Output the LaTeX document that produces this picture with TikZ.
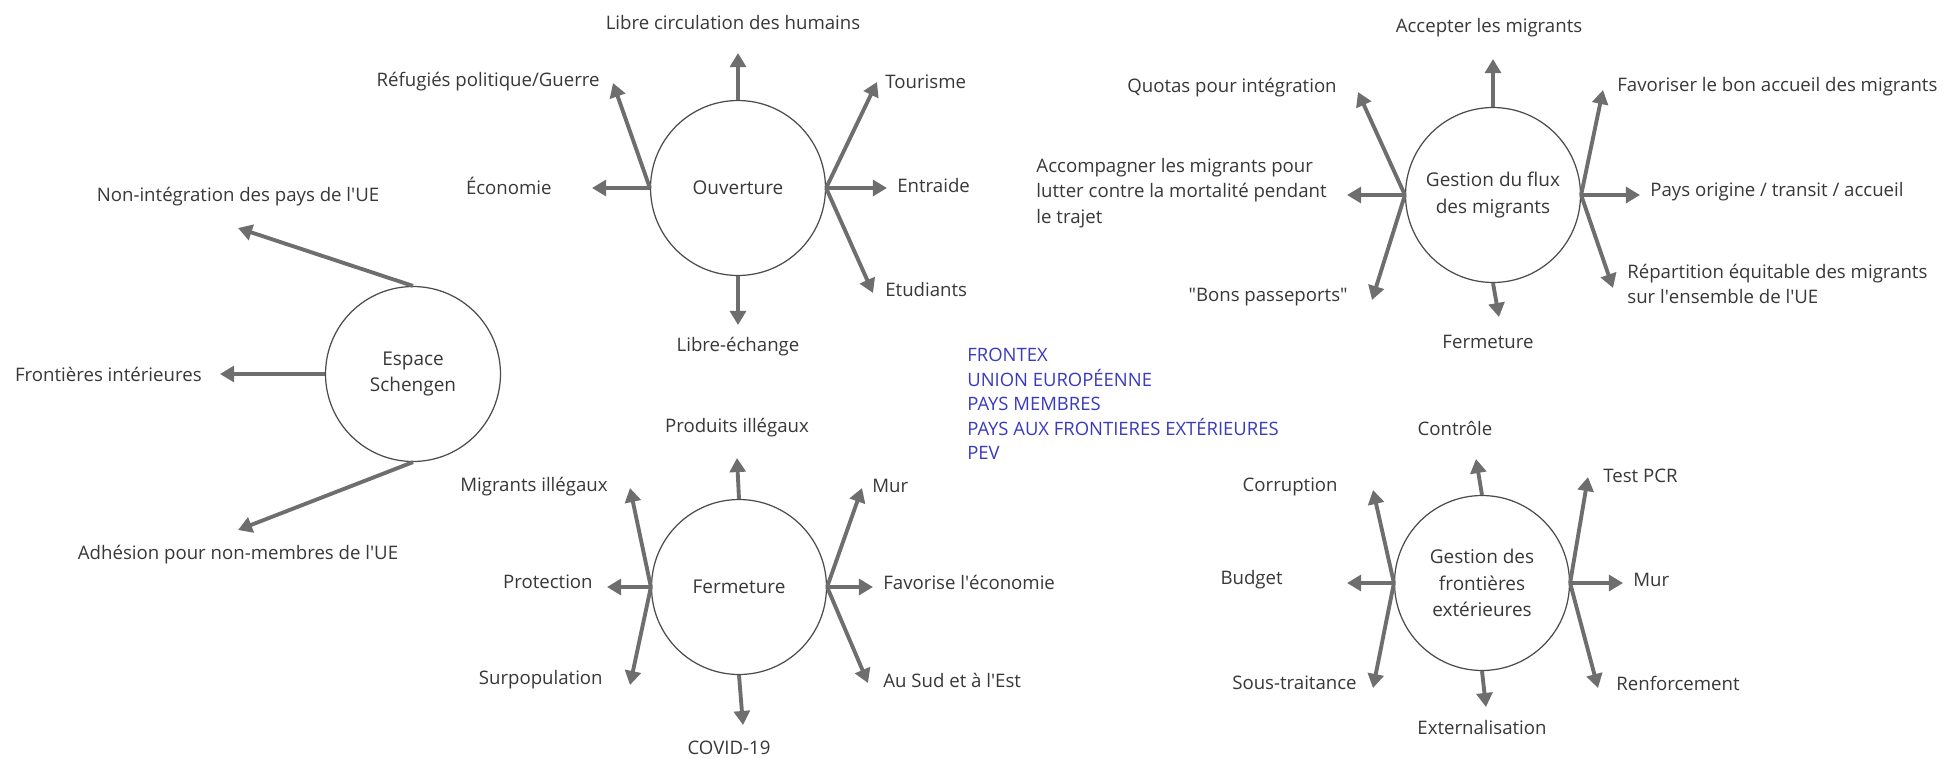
\documentclass[tikz,border=0pt]{standalone}
\usepackage{fontspec}
\setmainfont{Open Sans}
\usetikzlibrary{arrows.meta}

\definecolor{bleu}{RGB}{58,58,190}
\newcommand{\ap}{\textquotesingle}

\tikzset{
  hub/.style={circle, draw=black!70, line width=0.7pt, minimum size=3.5cm, inner sep=0pt,
    align=center, text=black!78, font=\fontsize{10.8}{15}\selectfont},
  lbl/.style={inner sep=0pt, text=black!78, font=\fontsize{10.6}{14.5}\selectfont},
  arr/.style={draw=black!57, line width=2.2pt, -{Triangle[length=8pt,width=9pt,fill=black!57]}},
}

\begin{document}
\begin{tikzpicture}[x=0.02cm,y=-0.02cm]
    \fill[white] (0,0) rectangle (1944,758);
    \useasboundingbox (0,0) rectangle (1944,758);

    % Kreise:
    \node[hub] (schengen) at (413,374) {Espace\\Schengen};
    \node[hub] (ouverture) at (738,188) {Ouverture};
    \node[hub] (flux) at (1493,195) {Gestion du flux\\des migrants};
    \node[hub] (fermeture) at (739,587) {Fermeture};
    \node[hub] (frontieres) at (1482,583) {Gestion des\\frontières\\extérieures};

    % Pfeilspitzen:
    \coordinate (s1) at (238,228);
    \coordinate (s2) at (220,374);
    \coordinate (s3) at (238,530);
    \coordinate (o1) at (738,53);
    \coordinate (o2) at (613,83);
    \coordinate (o3) at (592,188);
    \coordinate (o4) at (877,82);
    \coordinate (o5) at (887,188);
    \coordinate (o6) at (873,293);
    \coordinate (o7) at (738,325);
    \coordinate (f1) at (1493,59);
    \coordinate (f2) at (1358,92);
    \coordinate (f3) at (1347,195);
    \coordinate (f4) at (1372,300);
    \coordinate (f5) at (1603,90);
    \coordinate (f6) at (1640,195);
    \coordinate (f7) at (1613,288);
    \coordinate (f8) at (1499,317);
    \coordinate (m1) at (737,458);
    \coordinate (m2) at (630,488);
    \coordinate (m3) at (607,587);
    \coordinate (m4) at (630,685);
    \coordinate (m5) at (862,488);
    \coordinate (m6) at (873,587);
    \coordinate (m7) at (868,683);
    \coordinate (m8) at (743,725);
    \coordinate (x1) at (1476,459);
    \coordinate (x2) at (1373,490);
    \coordinate (x3) at (1347,583);
    \coordinate (x4) at (1373,688);
    \coordinate (x5) at (1588,477);
    \coordinate (x6) at (1623,583);
    \coordinate (x7) at (1598,688);
    \coordinate (x8) at (1486,707);

    % Espace Schengen
    \draw[arr] (schengen.north) -- (s1);
    \draw[arr] (schengen.west) -- (s2);
    \draw[arr] (schengen.south) -- (s3);
    \node[lbl] (ls1) at (238,197) {Non-intégration des pays de l\ap UE};
    \node[lbl, anchor=east] (ls2) at (202,374) {Frontières intérieures};
    \node[lbl] (ls3) at (238,555) {Adhésion pour non-membres de l\ap UE};

    % Ouverture
    \draw[arr] (ouverture.north) -- (o1);
    \draw[arr] (ouverture.west) -- (o2);
    \draw[arr] (ouverture.west) -- (o3);
    \draw[arr] (ouverture.east) -- (o4);
    \draw[arr] (ouverture.east) -- (o5);
    \draw[arr] (ouverture.east) -- (o6);
    \draw[arr] (ouverture.south) -- (o7);
    \node[lbl] (lo1) at (733,23) {Libre circulation des humains};
    \node[lbl, anchor=east] (lo2) at (600,82) {Réfugiés politique/Guerre};
    \node[lbl, anchor=east] (lo3) at (552,186) {Économie};
    \node[lbl, anchor=west] (lo4) at (885,82) {Tourisme};
    \node[lbl, anchor=west] (lo5) at (897,186) {Entraide};
    \node[lbl, anchor=west] (lo6) at (885,290) {Etudiants};
    \node[lbl] (lo7) at (738,347) {Libre-échange};

    % Gestion du flux des migrants
    \draw[arr] (flux.north) -- (f1);
    \draw[arr] (flux.west) -- (f2);
    \draw[arr] (flux.west) -- (f3);
    \draw[arr] (flux.west) -- (f4);
    \draw[arr] (flux.east) -- (f5);
    \draw[arr] (flux.east) -- (f6);
    \draw[arr] (flux.east) -- (f7);
    \draw[arr] (flux.south) -- (f8);
    \node[lbl] (lf1) at (1489,28) {Accepter les migrants};
    \node[lbl, anchor=east] (lf2) at (1337,88) {Quotas pour intégration};
    \node[lbl, anchor=east, align=left] (lf3) at (1327,193) {Accompagner les migrants pour\\lutter contre la mortalité pendant\\le trajet};
    \node[lbl, anchor=east] (lf4) at (1348,297) {\textquotedbl Bons passeports\textquotedbl};
    \node[lbl, anchor=west] (lf5) at (1617,87) {Favoriser le bon accueil des migrants};
    \node[lbl, anchor=west] (lf6) at (1650,192) {Pays origine / transit / accueil};
    \node[lbl, anchor=west, align=left] (lf7) at (1627,284) {Répartition équitable des migrants\\sur l\ap ensemble de l\ap UE};
    \node[lbl] (lf8) at (1488,342) {Fermeture};

    % Fermeture
    \draw[arr] (fermeture.north) -- (m1);
    \draw[arr] (fermeture.west) -- (m2);
    \draw[arr] (fermeture.west) -- (m3);
    \draw[arr] (fermeture.west) -- (m4);
    \draw[arr] (fermeture.east) -- (m5);
    \draw[arr] (fermeture.east) -- (m6);
    \draw[arr] (fermeture.east) -- (m7);
    \draw[arr] (fermeture.south) -- (m8);
    \node[lbl] (lm1) at (737,428) {Produits illégaux};
    \node[lbl, anchor=east] (lm2) at (608,487) {Migrants illégaux};
    \node[lbl, anchor=east] (lm3) at (593,582) {Protection};
    \node[lbl, anchor=east] (lm4) at (603,680) {Surpopulation};
    \node[lbl, anchor=west] (lm5) at (872,486) {Mur};
    \node[lbl, anchor=west] (lm6) at (883,582) {Favorise l\ap économie};
    \node[lbl, anchor=west] (lm7) at (883,680) {Au Sud et à l\ap Est};
    \node[lbl] (lm8) at (729,748) {COVID-19};

    % Gestion des frontières extérieures
    \draw[arr] (frontieres.north) -- (x1);
    \draw[arr] (frontieres.west) -- (x2);
    \draw[arr] (frontieres.west) -- (x3);
    \draw[arr] (frontieres.west) -- (x4);
    \draw[arr] (frontieres.east) -- (x5);
    \draw[arr] (frontieres.east) -- (x6);
    \draw[arr] (frontieres.east) -- (x7);
    \draw[arr] (frontieres.south) -- (x8);
    \node[lbl] (lx1) at (1455,428) {Contrôle};
    \node[lbl, anchor=east] (lx2) at (1338,487) {Corruption};
    \node[lbl, anchor=east] (lx3) at (1283,580) {Budget};
    \node[lbl, anchor=east] (lx4) at (1357,683) {Sous-traitance};
    \node[lbl, anchor=west] (lx5) at (1603,476) {Test PCR};
    \node[lbl, anchor=west] (lx6) at (1633,580) {Mur};
    \node[lbl, anchor=west] (lx7) at (1616,683) {Renforcement};
    \node[lbl] (lx8) at (1482,728) {Externalisation};

    % Akteure
    \node[lbl, text=bleu, anchor=west, align=left, font=\fontsize{10.5}{13.9}\selectfont] (acteurs) at (967,404)
      {FRONTEX\\UNION EUROPÉENNE\\PAYS MEMBRES\\PAYS AUX FRONTIERES EXTÉRIEURES\\PEV};
\end{tikzpicture}
\end{document}
